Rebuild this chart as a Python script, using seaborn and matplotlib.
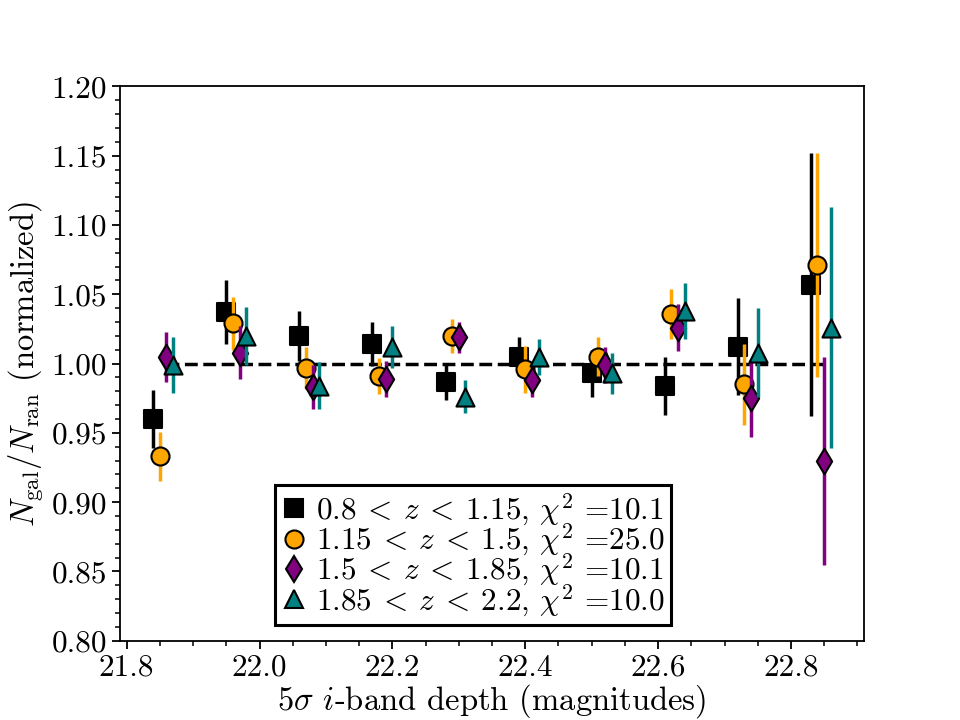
#!/usr/bin/env python3
"""Normalized galaxy / random counts versus 5-sigma i-band depth, four redshift bins."""

import numpy as np
import pandas as pd
import seaborn as sns
import matplotlib
matplotlib.use('Agg')
import matplotlib.pyplot as plt
from matplotlib.lines import Line2D

# Computer Modern look without LaTeX
plt.rcParams['font.family'] = 'serif'
plt.rcParams['font.serif'] = ['cmr10', 'DejaVu Serif']
plt.rcParams['mathtext.fontset'] = 'cm'
plt.rcParams['axes.formatter.use_mathtext'] = True
plt.rcParams['axes.unicode_minus'] = False

# Bin centres of the depth histogram (black points); other bins are offset
depth_bins = [21.84, 21.95, 22.06, 22.17, 22.28, 22.39, 22.50, 22.61, 22.72, 22.83]
offsets = [0.0, 0.01, 0.02, 0.03]

labels = [r'$0.8\:<\:z\:<\:1.15,\,\chi^2$ =10.1',
          r'$1.15\:<\:z\:<\:1.5,\,\chi^2$ =25.0',
          r'$1.5\:<\:z\:<\:1.85,\,\chi^2$ =10.1',
          r'$1.85\:<\:z\:<\:2.2,\,\chi^2$ =10.0']

ratio_z1 = [0.960, 1.037, 1.020, 1.014, 0.987, 1.005, 0.993, 0.984, 1.012, 1.057]
err_z1 = [0.021, 0.023, 0.018, 0.016, 0.013, 0.014, 0.017, 0.021, 0.035, 0.095]
ratio_z2 = [0.933, 1.029, 0.997, 0.991, 1.020, 0.996, 1.005, 1.036, 0.985, 1.071]
err_z2 = [0.018, 0.019, 0.015, 0.013, 0.012, 0.017, 0.014, 0.018, 0.029, 0.081]
ratio_z3 = [1.005, 1.008, 0.983, 0.989, 1.019, 0.988, 0.999, 1.026, 0.975, 0.930]
err_z3 = [0.018, 0.019, 0.016, 0.013, 0.011, 0.012, 0.013, 0.017, 0.028, 0.075]
ratio_z4 = [0.999, 1.020, 0.984, 1.012, 0.976, 1.005, 0.993, 1.038, 1.008, 1.026]
err_z4 = [0.020, 0.021, 0.017, 0.015, 0.012, 0.013, 0.015, 0.020, 0.032, 0.087]

colors = ['black', '#FFA500', '#800080', '#008080']
markers = ['s', 'o', 'd', '^']

# Build one long table for seaborn
frames = []
for i, (r, e) in enumerate([(ratio_z1, err_z1), (ratio_z2, err_z2),
                            (ratio_z3, err_z3), (ratio_z4, err_z4)]):
    frames.append(pd.DataFrame({
        'depth': np.array(depth_bins) + offsets[i],
        'ratio': r,
        'err': e,
        'sample': labels[i],
    }))
df = pd.concat(frames, ignore_index=True)

fig, ax = plt.subplots(figsize=(9.6, 7.2), dpi=100)

# reference line at unity
purple_x = np.array(depth_bins) + offsets[2]
ax.plot([purple_x[0], purple_x[-1]], [1.0, 1.0], color='black', ls='--',
        lw=2.5, zorder=1)

ms = 13
for i, lab in enumerate(labels):
    sub = df[df['sample'] == lab]
    ax.errorbar(sub['depth'], sub['ratio'], yerr=sub['err'], fmt='none',
                ecolor=colors[i], elinewidth=2.5, capsize=0, zorder=2 + 2 * i)
    sns.scatterplot(data=sub, x='depth', y='ratio', marker=markers[i],
                    color=colors[i], s=ms ** 2, edgecolor='black',
                    linewidth=1.5, legend=False, ax=ax, zorder=3 + 2 * i)

ax.set_xlim(21.79, 22.91)
ax.set_ylim(0.80, 1.20)
ax.set_xticks([21.8, 22.0, 22.2, 22.4, 22.6, 22.8])
ax.set_xticks(np.arange(21.8, 22.91, 0.05), minor=True)
ax.set_yticks(np.arange(0.80, 1.201, 0.05))
ax.set_yticks(np.arange(0.80, 1.201, 0.01), minor=True)
ax.xaxis.set_major_formatter(matplotlib.ticker.FormatStrFormatter('%.1f'))
ax.yaxis.set_major_formatter(matplotlib.ticker.FormatStrFormatter('%.2f'))
ax.tick_params(axis='both', which='major', labelsize=22.5, length=6, width=1.3)
ax.tick_params(axis='both', which='minor', length=3.5, width=1.1)
for sp in ax.spines.values():
    sp.set_linewidth(1.3)

ax.set_xlabel(r'$5\sigma$ $i$-band depth (magnitudes)', fontsize=23.5, labelpad=0)
ax.set_ylabel(r'$N_{\rm gal}/N_{\rm ran}$ (normalized)', fontsize=23.5, labelpad=4)

handles = [Line2D([0], [0], marker=markers[i], color='none',
                  markerfacecolor=colors[i], markeredgecolor='black',
                  markeredgewidth=1.5, markersize=ms) for i in range(4)]
leg = ax.legend(handles, labels, loc='lower center',
                bbox_to_anchor=(0.475, 0.0), fontsize=22.5, frameon=True,
                fancybox=False, edgecolor='black', framealpha=1,
                handlelength=0.8, handletextpad=0.3, labelspacing=-0.2,
                borderpad=0.2, borderaxespad=0.5)
leg.get_frame().set_linewidth(2.2)

fig.savefig('out.png', dpi=100)
